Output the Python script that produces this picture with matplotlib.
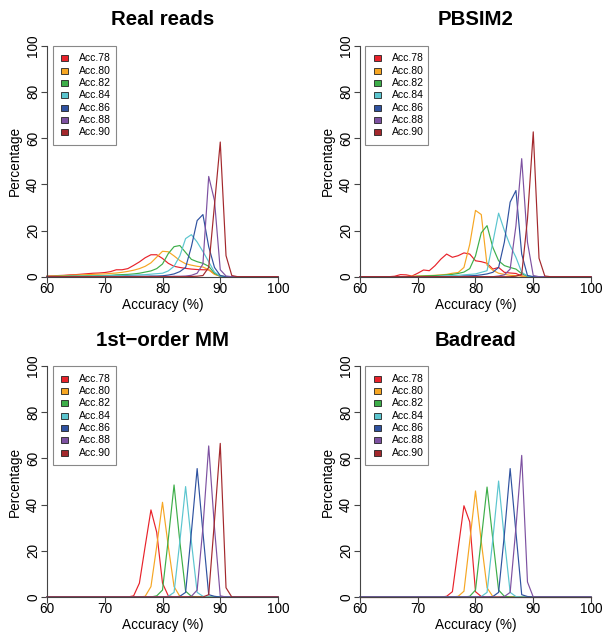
import numpy as np
import matplotlib
matplotlib.use("Agg")
import matplotlib.pyplot as plt
from matplotlib.patches import Rectangle

plt.rcParams['font.family'] = ['Liberation Sans', 'DejaVu Sans']

# accuracy grid (%)
acc = np.arange(60, 101)

labels = ["Acc.78", "Acc.80", "Acc.82", "Acc.84", "Acc.86", "Acc.88", "Acc.90"]
colors = ["#E8222A", "#F6A623", "#3DAE49", "#5BC5CF", "#2F52A0", "#7D51A1", "#A3282C"]

titles = ["Real reads", "PBSIM2", "1st\u2212order MM", "Badread"]

# each series: first accuracy value, then percentages from there on (rest = 0)
real_78 = (60, [0.3, 0.4, 0.5, 0.6, 0.8, 0.9, 1.1, 1.3, 1.5, 1.6, 1.8, 2.2, 3.0, 3.0, 3.5,
                4.9, 6.4, 8.2, 9.5, 9.5, 7.9, 5.8, 4.5, 4.0, 3.6, 3.3, 3.1, 3.0, 3.0, 1.2, 0.2])
real_80 = (60, [0.2, 0.3, 0.4, 0.5, 0.6, 0.7, 0.8, 0.9, 1.0, 1.1, 1.2, 1.4, 1.6, 1.9, 2.3,
                2.8, 3.5, 4.5, 6.0, 8.5, 11.0, 10.8, 9.0, 7.0, 5.6, 5.0, 4.5, 4.2, 3.0, 1.0, 0.2])
real_82 = (60, [0.1, 0.1, 0.2, 0.2, 0.3, 0.3, 0.3, 0.4, 0.4, 0.5, 0.5, 0.6, 0.8, 0.9, 1.0,
                1.2, 1.5, 2.0, 2.5, 3.5, 5.5, 10.0, 13.0, 13.5, 10.5, 7.5, 6.5, 5.8, 4.5, 1.5, 0.2])
real_84 = (60, [0.1, 0.1, 0.1, 0.1, 0.2, 0.2, 0.2, 0.2, 0.3, 0.3, 0.4, 0.4, 0.5, 0.5, 0.6,
                0.7, 0.8, 0.9, 1.1, 1.3, 1.5, 2.5, 4.5, 9.0, 16.5, 18.2, 15.0, 10.9, 6.5, 2.0, 0.3])
real_86 = (70, [0.1, 0.1, 0.1, 0.1, 0.2, 0.2, 0.2, 0.2, 0.3, 0.3, 0.4, 0.7, 1.2, 2.2, 4.0,
                13.0, 24.3, 26.9, 13.0, 4.0, 0.5])
real_88 = (80, [0.1, 0.1, 0.2, 0.2, 0.3, 0.6, 1.5, 5.5, 43.4, 33.0, 3.0, 0.3])
real_90 = (85, [0.1, 0.2, 0.5, 4.0, 31.0, 58.3, 9.1, 0.5])

pb_78 = (66, [0.2, 0.9, 0.8, 0.3, 1.5, 2.9, 2.6, 4.8, 7.6, 9.8, 8.4, 9.1, 10.3, 9.8,
              6.9, 6.5, 5.8, 3.3, 4.0, 1.9, 1.6, 1.4, 0.3])
pb_80 = (68, [0.1, 0.2, 0.3, 0.4, 0.5, 0.6, 0.8, 1.0, 1.5, 1.8, 4.0, 14.0, 28.7, 26.9,
              5.0, 2.8, 1.5, 1.0, 0.6, 0.5, 0.2])
pb_82 = (70, [0.2, 0.3, 0.4, 0.5, 0.6, 0.8, 1.0, 1.4, 2.0, 3.5, 9.0, 19.0, 22.1, 12.7,
              6.9, 4.8, 4.0, 3.3, 1.3, 0.2])
pb_84 = (74, [0.3, 0.4, 0.5, 0.6, 0.8, 1.0, 1.2, 1.9, 2.6, 14.9, 27.5, 20.0, 13.5, 8.4,
              1.9, 0.3])
pb_86 = (78, [0.3, 0.4, 0.5, 0.8, 1.2, 1.9, 4.0, 15.0, 32.3, 37.3, 9.8, 0.5])
pb_88 = (84, [0.3, 0.8, 3.3, 22.0, 51.1, 14.9, 0.5])
pb_90 = (87, [0.2, 1.0, 25.0, 62.7, 8.0, 0.3])

mm_78 = (75, [0.5, 6.0, 22.0, 37.7, 28.0, 6.0, 0.5])
mm_80 = (77, [0.3, 4.5, 22.0, 41.0, 22.0, 4.5, 0.3])
mm_82 = (79, [0.5, 3.0, 25.0, 48.5, 24.0, 2.5, 0.3])
mm_84 = (81, [0.3, 2.0, 24.0, 47.8, 24.0, 2.0, 0.3])
mm_86 = (83, [0.3, 2.0, 28.0, 55.6, 28.0, 1.0, 0.3])
mm_88 = (85, [0.3, 3.0, 30.0, 65.4, 30.0, 0.5])
mm_90 = (88, [1.0, 33.0, 66.5, 4.0])

bd_78 = (75, [0.3, 2.3, 21.0, 39.5, 32.5, 2.3, 0.2])
bd_80 = (77, [0.3, 2.5, 24.0, 45.9, 24.0, 4.0, 0.2])
bd_82 = (79, [0.3, 3.0, 25.0, 47.6, 25.0, 3.0, 0.3])
bd_84 = (81, [0.2, 2.0, 25.0, 50.2, 25.0, 2.0, 0.2])
bd_86 = (83, [0.2, 2.0, 27.0, 55.6, 28.0, 1.0, 0.2])
bd_88 = (85, [0.2, 2.0, 30.0, 61.3, 6.5])
bd_90 = (60, [])

panels = [
    [real_78, real_80, real_82, real_84, real_86, real_88, real_90],
    [pb_78, pb_80, pb_82, pb_84, pb_86, pb_88, pb_90],
    [mm_78, mm_80, mm_82, mm_84, mm_86, mm_88, mm_90],
    [bd_78, bd_80, bd_82, bd_84, bd_86, bd_88, bd_90],
]


def full_series(s):
    start, vals = s
    y = np.zeros(len(acc))
    i = int(np.where(acc == start)[0][0])
    y[i:i + len(vals)] = vals
    return y


W, H = 603, 633
fig = plt.figure(figsize=(W / 100, H / 100), dpi=100)

# plot region corners in pixels (left, top), square side
corners = [(47, 45.7), (360, 45.7), (47, 366), (360, 366)]
side = 231
axcol = "#444444"


def draw_legend(ax):
    # R-style legend box in the top-left corner, sizes in pixels
    p = 1 / side
    ax.add_patch(Rectangle((5.5 * p, 1 - 99 * p), 63 * p, 99 * p, transform=ax.transAxes,
                           facecolor="white", edgecolor="#888888", lw=0.8,
                           clip_on=False, zorder=5))
    for i, (lab, c) in enumerate(zip(labels, colors)):
        yc = 1 - (12.6 + 12.33 * i) * p
        ax.add_patch(Rectangle((14 * p, yc - 3 * p), 7 * p, 6 * p, transform=ax.transAxes,
                               facecolor=c, edgecolor="#222222", lw=0.6,
                               clip_on=False, zorder=6))
        ax.text(32 * p, yc, lab, transform=ax.transAxes, fontsize=7.5,
                ha="left", va="center", zorder=6)


for (l, t), title, series in zip(corners, titles, panels):
    ax = fig.add_axes([l / W, 1 - (t + side) / H, side / W, side / H])
    for s, c in zip(series, colors):
        ax.plot(acc, full_series(s), color=c, lw=0.85, clip_on=False)

    ax.set_xlim(60, 100)
    ax.set_ylim(0, 100)
    ax.set_xticks(range(60, 101, 10))
    ax.set_yticks(range(0, 101, 20))
    for sp in ["top", "right"]:
        ax.spines[sp].set_visible(False)
    for sp in ["left", "bottom"]:
        ax.spines[sp].set_color(axcol)
        ax.spines[sp].set_linewidth(0.8)
    ax.tick_params(direction="out", length=4, width=0.8, color=axcol,
                   labelsize=9.8, pad=1)
    ax.tick_params(axis="x", pad=-0.5)
    for lab in ax.get_yticklabels():
        lab.set_rotation(90)
        lab.set_va("center")

    ax.set_xlabel("Accuracy (%)", fontsize=9.8)
    ax.xaxis.set_label_coords(0.5, -28 / side)
    ax.xaxis.label.set_va("center")
    ax.set_ylabel("Percentage", fontsize=9.8)
    ax.yaxis.set_label_coords(-32 / side, 0.5)
    ax.yaxis.label.set_va("center")

    fig.text((l + side / 2) / W, 1 - (t - 26) / H, title, fontsize=14.7,
             fontweight="bold", ha="center", va="center")

    draw_legend(ax)

fig.savefig("out.png", dpi=100)
